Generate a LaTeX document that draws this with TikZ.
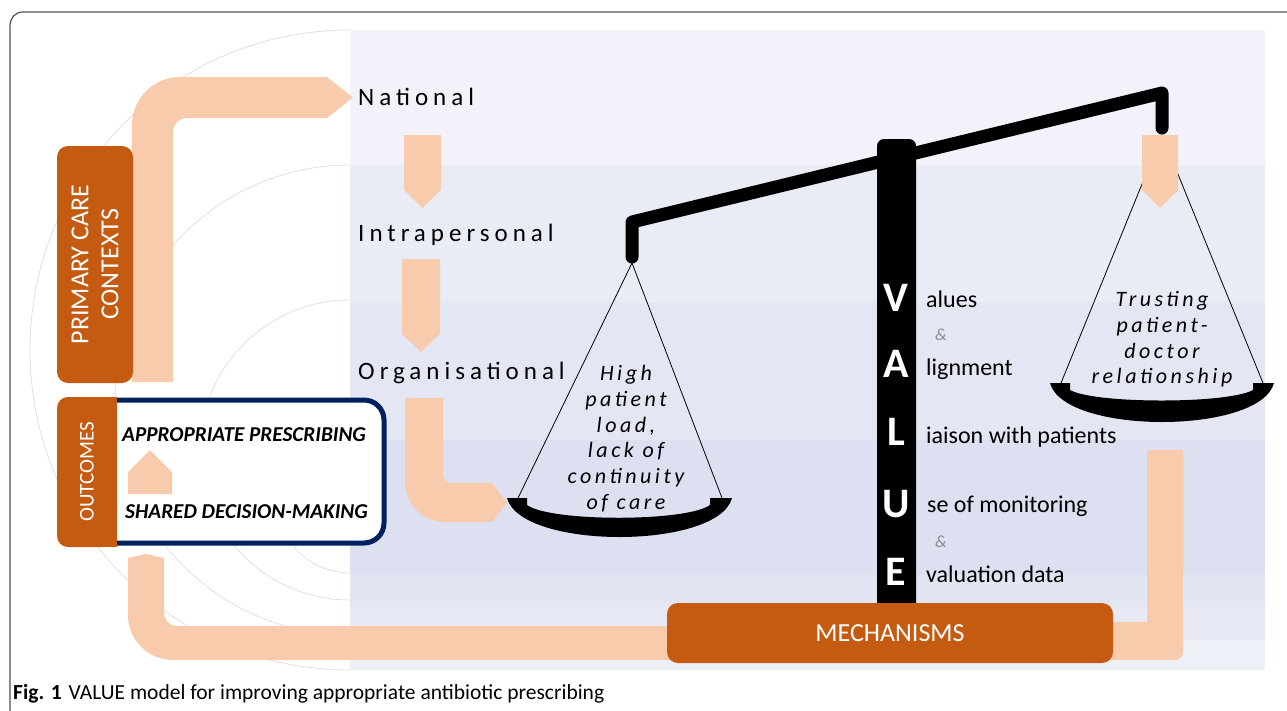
\documentclass[tikz,border=0pt]{standalone}
\usepackage{fontspec}
\setmainfont{Carlito}
\newfontfamily\levelfont[LetterSpace=20]{Carlito}
\newfontfamily\panfont[LetterSpace=16]{Carlito}

\definecolor{peach}{HTML}{F8CBAD}
\definecolor{rust}{HTML}{C55A11}
\definecolor{navy}{HTML}{002060}
\definecolor{ringgray}{HTML}{E2E2E2}
\definecolor{framegray}{HTML}{505050}
\definecolor{ampgray}{HTML}{8C8C8C}

\tikzset{
  rustbox/.style={rectangle, rounded corners=11pt, fill=rust, text=white, inner sep=0pt, align=center},
  level/.style={anchor=base west, inner sep=0pt, font=\levelfont\fontsize{25}{28}\selectfont},
  pantext/.style={anchor=north, align=center, inner sep=0pt, font=\panfont\itshape\fontsize{22}{25.8}\selectfont},
  bigletter/.style={anchor=base, inner sep=0pt, text=white, font=\bfseries\fontsize{42}{42}\selectfont},
  word/.style={anchor=base west, inner sep=0pt, font=\fontsize{24}{28}\selectfont},
  amp/.style={anchor=base west, inner sep=0pt, text=ampgray, font=\itshape\fontsize{17}{17}\selectfont},
  outcome/.style={anchor=base west, inner sep=0pt, font=\bfseries\itshape\fontsize{21.2}{24}\selectfont},
}

\begin{document}
\begin{tikzpicture}[x=1pt, y=-1pt]
    \useasboundingbox (0,0) rectangle (1287,710);

    % Frame
    \draw[framegray, line width=1.2pt] (10,715) -- (10,26) .. controls (10,18) and (15,12) .. (23,12) -- (1295,12);

    % Rings
    \begin{scope}
        \clip (0,0) rectangle (350,710);
        \foreach \cy/\r in {350/320, 400/235, 450/150, 500/73}
            \draw[ringgray, line width=0.9pt] (350,\cy) circle[radius=\r];
    \end{scope}

    % Bands
    \foreach \ya/\yb/\hex in {30/165/F2F3FA, 165/302/E9EBF5, 302/440/E4E7F3, 440/575/DDE0F0, 575/607/E2E5F2, 607/640/E7E9F4, 640/670/EEF0F7} {
        \definecolor{bandcol}{HTML}{\hex}
        \fill[bandcol] (350,\ya) rectangle (1265,\yb);
    }

    % Flow into the levels
    \fill[peach] (132,382) -- (132,125) .. controls (132,98) and (154,77) .. (180,77) -- (327,77) -- (353,97.5) -- (327,118) -- (187,118) .. controls (179,118) and (173,124) .. (173,132) -- (173,382) -- cycle;
    \fill[peach] (404,135) -- (441,135) -- (441,190) -- (422.5,208) -- (404,190) -- cycle;
    \fill[peach] (402,259) -- (440,259) -- (440,334) -- (421,352) -- (402,334) -- cycle;
    \fill[peach] (405,398) -- (405,482) .. controls (405,504) and (423,522) .. (445,522) -- (492,522) -- (507,503) -- (492,483) -- (451,483) .. controls (447,483) and (443,479) .. (443,475) -- (443,398) -- cycle;

    % Levels
    \node[level] (national) at (358,105.5) {National};
    \node[level] (intra) at (358,241.5) {Intrapersonal};
    \node[level] (organ) at (358,379) {Organisational};

    % Scale
    \coordinate (lefthook) at (632,263);
    \coordinate (righthook) at (1162,135);
    \coordinate (leftpanL) at (518,498);
    \coordinate (leftpanR) at (722,498);
    \coordinate (rightpanL) at (1061,383);
    \coordinate (rightpanR) at (1263,383);
    \draw[line width=0.8pt] (leftpanL) -- (lefthook) -- (leftpanR);
    \draw[line width=0.8pt] (rightpanL) -- (righthook) -- (rightpanR);
    \fill (507,498) -- (527,498) -- (527,505) .. controls (550,522) and (687,522) .. (710,505) -- (710,498) -- (732,498) .. controls (718,550) and (521,550) .. (507,498) -- cycle;
    \fill (1050,383) -- (1070,383) -- (1070,390) .. controls (1095,404) and (1228,404) .. (1253,390) -- (1253,383) -- (1274,383) .. controls (1260,435) and (1064,435) .. (1050,383) -- cycle;
    \draw[line width=13pt, line join=round, line cap=round] (632,257) -- (632,222) -- (1162,93) -- (1162,128);
    \fill[rounded corners=7pt] (877,139) rectangle (916,615);
    \fill[peach] (1142,135) -- (1178,135) -- (1178,190) -- (1160,208) -- (1142,190) -- cycle;

    % Loads
    \node[pantext] (leftload) at (626,365) {High\\patient\\load,\\lack of\\continuity\\of care};
    \node[pantext] (rightload) at (1162,291) {Trusting\\patient-\\doctor\\relationship};

    % VALUE
    \node[bigletter] (valV) at (896,311) {V};
    \node[bigletter] (valA) at (896,377) {A};
    \node[bigletter] (valL) at (896,445) {L};
    \node[bigletter] (valU) at (896,517) {U};
    \node[bigletter] (valE) at (896,585) {E};
    \node[word] (wordV) at (926,307) {alues};
    \node[amp] (ampA) at (935,340) {\&};
    \node[word] (wordA) at (926,375) {lignment};
    \node[word] (wordL) at (926,443) {iaison with patients};
    \node[word] (wordU) at (927,512) {se of monitoring};
    \node[amp] (ampE) at (935,547) {\&};
    \node[word] (wordE) at (926,582) {valuation data};

    % Flow back to outcomes
    \fill[peach] (1100,622) -- (1147,622) -- (1147,450) -- (1183,450) -- (1183,652) .. controls (1183,657) and (1179,660) .. (1175,660) -- (1100,660) -- cycle;
    \fill[peach] (128,558) -- (146,554) -- (164,558) -- (164,612) .. controls (164,620) and (169,626) .. (177,626) -- (700,626) -- (700,660) -- (173,660) .. controls (148,660) and (128,640) .. (128,615) -- cycle;

    % Boxes
    \node[rustbox, minimum width=446pt, minimum height=60pt, font=\fontsize{26}{30}\selectfont] (mech) at (890,633) {MECHANISMS};
    \node[rustbox, rotate=90, minimum width=237pt, minimum height=76pt, font=\fontsize{26}{30}\selectfont] (primary) at (95,264.5) {PRIMARY CARE\\CONTEXTS};
    \draw[navy, line width=5pt, fill=white, rounded corners=20pt] (80,400) rectangle (384,543);
    \fill[rust] (100,397) rectangle (117,547);
    \node[rustbox, rotate=90, minimum width=150pt, minimum height=60pt, font=\fontsize{21}{24}\selectfont] (outcomes) at (87,472) {OUTCOMES};
    \node[outcome] (approp) at (122,441) {APPROPRIATE PRESCRIBING};
    \node[outcome] (shared) at (125,518) {SHARED DECISION-MAKING};
    \fill[peach] (128,494) -- (128,472) -- (150,450) -- (172,472) -- (172,494) -- cycle;

    % Caption
    \node[anchor=base west, inner sep=0pt, font=\fontsize{21.5}{24}\selectfont] (caption) at (13,699) {\textbf{Fig. 1}\hspace{7pt}VALUE model for improving appropriate antibiotic prescribing};
\end{tikzpicture}
\end{document}
